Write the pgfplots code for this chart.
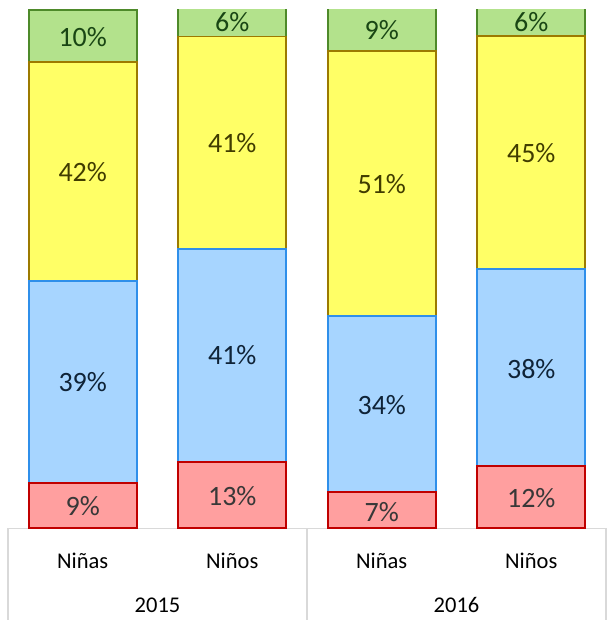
\documentclass[border=0pt]{standalone}
\usepackage{pgfplots}
\pgfplotsset{compat=1.18}
\usepackage{fontspec}
\setmainfont{Carlito}
\definecolor{redF}{HTML}{FF9F9F}
\definecolor{redL}{HTML}{C00000}
\definecolor{bluF}{HTML}{A7D5FF}
\definecolor{bluL}{HTML}{2F8FEA}
\definecolor{yelF}{HTML}{FFFF66}
\definecolor{yelL}{HTML}{9C7A00}
\definecolor{greF}{HTML}{B3E28C}
\definecolor{greL}{HTML}{4E8A2A}
\definecolor{sepC}{HTML}{D9D9D9}
\begin{document}
\begin{tikzpicture}
\useasboundingbox (-8pt,-92pt) rectangle (598pt,528pt);
\begin{axis}[
  at={(0,0)}, anchor=south west,
  scale only axis, width=598pt, height=518pt,
  ybar stacked, bar width=108pt,
  xmin=-0.5, xmax=3.5, ymin=0, ymax=100,
  axis x line*=bottom, axis y line=none,
  axis line style={draw=sepC, line width=1pt, -},
  xtick={0,1,2,3},
  xticklabels={Niñas,Niños,Niñas,Niños},
  major tick length=0pt,
  xticklabel style={font=\fontsize{22.5}{26}\selectfont, anchor=center, yshift=-33pt},
  extra x ticks={-0.5,1.5,3.5},
  extra x tick labels={},
  extra x tick style={tick align=outside, major tick length=92pt,
    tick style={draw=sepC, line width=1.2pt}},
]
\addplot[fill=redF, draw=redL, line width=1.7pt] coordinates {(0,8.7) (1,12.7) (2,6.9) (3,12.0)};
\addplot[fill=bluF, draw=bluL, line width=1.7pt] coordinates {(0,39.0) (1,41.1) (2,34.0) (3,38.0)};
\addplot[fill=yelF, draw=yelL, line width=1.7pt] coordinates {(0,42.3) (1,41.1) (2,51.2) (3,45.0)};
\addplot[fill=greF, draw=greL, line width=1.7pt] coordinates {(0,10.0) (1,6.0) (2,8.9) (3,6.0)};
\end{axis}
\begin{axis}[
  at={(0,0)}, anchor=south west,
  scale only axis, width=598pt, height=518pt,
  xmin=-0.5, xmax=3.5, ymin=0, ymax=100,
  hide axis, clip=false,
  nodes near coords, point meta=explicit symbolic,
  every node near coord/.append style={anchor=center, font=\fontsize{28}{32}\selectfont},
]
\addplot[draw=none, mark=none, every node near coord/.append style={text=black!78}] table[meta=l] {
x y l
0 4.2 9\%
1 6.2 13\%
2 3.0 7\%
3 5.8 12\%
};
\addplot[draw=none, mark=none, every node near coord/.append style={text={rgb,255:red,15;green,35;blue,55}}] table[meta=l] {
x y l
0 28.1 39\%
1 33.3 41\%
2 23.8 34\%
3 30.6 38\%
};
\addplot[draw=none, mark=none, every node near coord/.append style={text={rgb,255:red,64;green,60;blue,0}}] table[meta=l] {
x y l
0 68.8 42\%
1 74.3 41\%
2 66.4 51\%
3 72.3 45\%
};
\addplot[draw=none, mark=none, every node near coord/.append style={text={rgb,255:red,25;green,70;blue,20}}] table[meta=l] {
x y l
0 94.7 10\%
1 97.6 6\%
2 96.1 9\%
3 97.6 6\%
};
\node[font=\fontsize{22.5}{26}\selectfont, anchor=center] at (axis cs:0.5,0) [yshift=-77pt] {2015};
\node[font=\fontsize{22.5}{26}\selectfont, anchor=center] at (axis cs:2.5,0) [yshift=-77pt] {2016};
\end{axis}
\end{tikzpicture}
\end{document}
